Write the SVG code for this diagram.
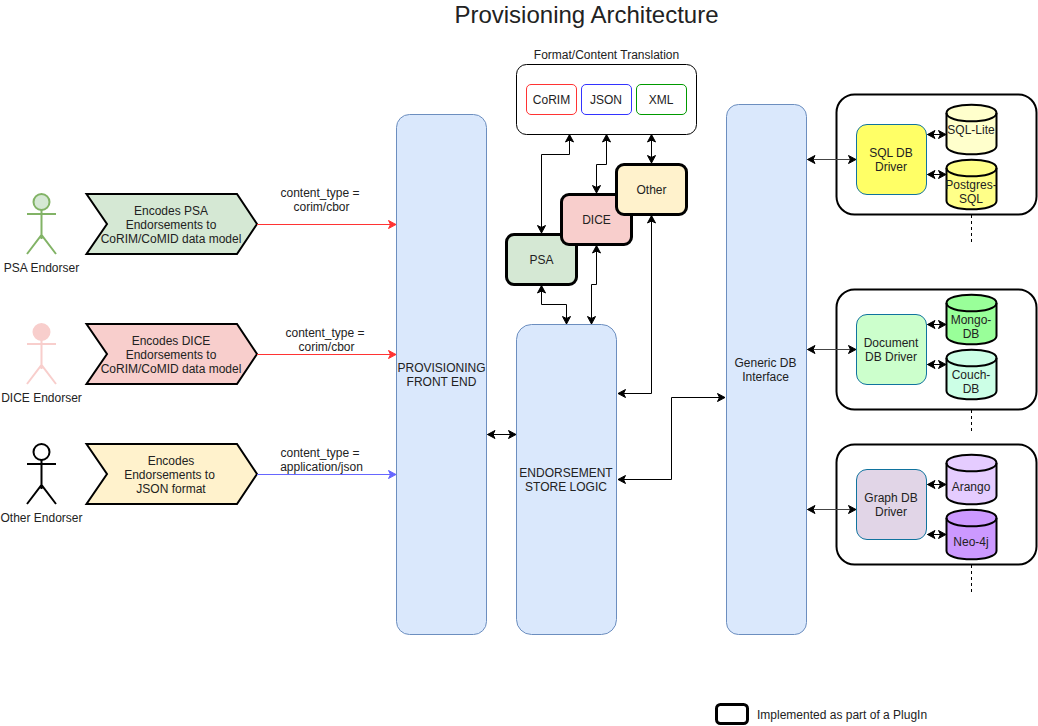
<svg xmlns="http://www.w3.org/2000/svg" width="1038" height="726" viewBox="0 0 1038 726">
<style>
text{font-family:"Liberation Sans",Arial,sans-serif;font-size:12px;fill:#222;text-anchor:middle}
.blue{fill:#dae8fc;stroke:#6c8ebf;stroke-width:1}
.ch{stroke:#000;stroke-width:2;stroke-linejoin:miter}
.act{fill:none;stroke-width:2}
.plug{stroke:#000;stroke-width:3}
.out{fill:#fff;stroke:#000;stroke-width:2}
.drv{stroke:#10739e;stroke-width:1}
.cyl{stroke:#000;stroke-width:2}
.c{fill:none;stroke:#000;stroke-width:1;marker-start:url(#a);marker-end:url(#a)}
.g{fill:none;stroke:#000;stroke-width:1;marker-end:url(#a)}
.d{fill:none;stroke:#000;stroke-width:1;stroke-dasharray:3 3}
</style>
<defs>
<marker id="a" markerUnits="userSpaceOnUse" viewBox="0 0 10 10" refX="9" refY="5" markerWidth="10" markerHeight="10" orient="auto-start-reverse"><path d="M1.5 1 L9 5 L1.5 9 L3.5 5 Z" fill="#000" stroke="#000"/></marker>
<marker id="r" markerUnits="userSpaceOnUse" viewBox="0 0 10 10" refX="9" refY="5" markerWidth="10" markerHeight="10" orient="auto"><path d="M1.5 1 L9 5 L1.5 9 L3.5 5 Z" fill="#ff3333" stroke="#ff3333"/></marker>
<marker id="b" markerUnits="userSpaceOnUse" viewBox="0 0 10 10" refX="9" refY="5" markerWidth="10" markerHeight="10" orient="auto"><path d="M1.5 1 L9 5 L1.5 9 L3.5 5 Z" fill="#6666ff" stroke="#6666ff"/></marker>
<path id="actor" d="M41.5 210V239M27 214H56M27 254L41.5 235L56 254"/>
<path id="chev" d="M86.5 194H237L257 224L237 254H86.5L107 224Z"/>
<path id="cy" d="M946.5 113C946.5 102 996.5 102 996.5 113V146C996.5 157 946.5 157 946.5 146Z"/>
<path id="cyt" d="M946.5 113C946.5 124 996.5 124 996.5 113"/>
</defs>
<text x="586.5" y="23" style="font-size:24px">Provisioning Architecture</text>

<g id="psa-endorser"><circle cx="41.5" cy="202" r="8" fill="#d5e8d4" stroke="#82b366" stroke-width="2"/><use href="#actor" class="act" stroke="#82b366"/><text x="41.5" y="272">PSA Endorser</text></g>
<g id="dice-endorser"><circle cx="41.5" cy="332" r="8" fill="#f8cecc" stroke="#f8cecc" stroke-width="2"/><use href="#actor" y="130" class="act" stroke="#f8cecc"/><text x="41.5" y="402">DICE Endorser</text></g>
<g id="other-endorser"><circle cx="41.5" cy="452" r="8" fill="#fff" stroke="#000" stroke-width="2"/><use href="#actor" y="250" class="act" stroke="#000"/><text x="41.5" y="522">Other Endorser</text></g>

<g id="encode-psa"><use href="#chev" class="ch" fill="#d5e8d4"/><text x="171" y="215">Encodes PSA</text><text x="171" y="229">Endorsements to</text><text x="171" y="243">CoRIM/CoMID data model</text></g>
<g id="encode-dice"><use href="#chev" y="130" class="ch" fill="#f8cecc"/><text x="171" y="345">Encodes DICE</text><text x="171" y="359">Endorsements to</text><text x="171" y="373">CoRIM/CoMID data model</text></g>
<g id="encode-other"><use href="#chev" y="250" class="ch" fill="#fff2cc"/><text x="171" y="465">Encodes</text><text x="169.500" y="479">Endorsements to</text><text x="171" y="493">JSON format</text></g>

<g id="label-psa"><text x="320" y="197">content_type =</text><text x="321.500" y="211">corim/cbor</text></g>
<g id="label-dice"><text x="325" y="337">content_type =</text><text x="326.500" y="351">corim/cbor</text></g>
<g id="label-other"><text x="320" y="457">content_type =</text><text x="321.500" y="471">application/json</text></g>

<g id="front-end"><rect class="blue" x="396.500" y="114.500" width="90" height="520" rx="13"/><text x="441.500" y="372">PROVISIONING</text><text x="441.500" y="386">FRONT END</text></g>
<g id="store-logic"><rect class="blue" x="516.500" y="324.500" width="100" height="310" rx="15"/><text x="566" y="477">ENDORSEMENT</text><text x="566" y="491">STORE LOGIC</text></g>
<g id="db-interface"><rect class="blue" x="726.500" y="104.500" width="80" height="530" rx="12"/><text x="765.500" y="367">Generic DB</text><text x="765.500" y="381">Interface</text></g>

<g id="translation"><text x="606.500" y="59">Format/Content Translation</text><rect x="516.500" y="64.500" width="180" height="70" rx="10" fill="#fff" stroke="#000"/>
<rect x="526.500" y="84.500" width="50" height="30" rx="4.500" fill="#fff" stroke="#ff3333"/><text x="551.500" y="104">CoRIM</text>
<rect x="581.500" y="84.500" width="50" height="30" rx="4.500" fill="#fff" stroke="#3333ff"/><text x="606" y="104">JSON</text>
<rect x="636.500" y="84.500" width="50" height="30" rx="4.500" fill="#fff" stroke="#009900"/><text x="661" y="104">XML</text></g>

<g id="psa"><rect class="plug" x="506.500" y="234.500" width="70" height="50" rx="7.500" fill="#d5e8d4"/><text x="541.500" y="264">PSA</text></g>
<g id="dice"><rect class="plug" x="561.500" y="194.500" width="70" height="50" rx="7.500" fill="#f8cecc"/><text x="596.500" y="224">DICE</text></g>
<g id="other"><rect class="plug" x="616.500" y="164.500" width="70" height="50" rx="7.500" fill="#fff2cc"/><text x="651.500" y="194">Other</text></g>

<g id="sql-group"><rect class="out" x="836.500" y="94.500" width="200" height="120" rx="18"/><rect class="drv" x="856.500" y="124.500" width="70" height="70" rx="10.500" fill="#ffff66"/><text x="891" y="157">SQL DB</text><text x="891" y="171">Driver</text>
<use href="#cy" class="cyl" fill="#ffffcc"/><use href="#cyt" class="cyl" fill="none"/><text x="971" y="134">SQL-Lite</text>
<use href="#cy" y="55" class="cyl" fill="#ffff88"/><use href="#cyt" y="55" class="cyl" fill="none"/><text x="971" y="189">Postgres-</text><text x="971" y="203">SQL</text></g>

<g id="doc-group"><rect class="out" x="836.500" y="289.500" width="200" height="120" rx="18"/><rect class="drv" x="856.500" y="314.500" width="70" height="70" rx="10.500" fill="#ccffcc"/><text x="891" y="347">Document</text><text x="891" y="361">DB Driver</text>
<use href="#cy" y="190" class="cyl" fill="#99ff99"/><use href="#cyt" y="190" class="cyl" fill="none"/><text x="971" y="324">Mongo-</text><text x="971" y="338">DB</text>
<use href="#cy" y="245" class="cyl" fill="#ccffe6"/><use href="#cyt" y="245" class="cyl" fill="none"/><text x="971" y="379">Couch-</text><text x="971" y="393">DB</text></g>

<g id="graph-group"><rect class="out" x="836.500" y="444.500" width="200" height="120" rx="18"/><rect class="drv" x="856.500" y="469.500" width="70" height="70" rx="10.500" fill="#e1d5e7"/><text x="891" y="502">Graph DB</text><text x="891" y="516">Driver</text>
<use href="#cy" y="350" class="cyl" fill="#e5ccff"/><use href="#cyt" y="350" class="cyl" fill="none"/><text x="971" y="491">Arango</text>
<use href="#cy" y="405" class="cyl" fill="#cc99ff"/><use href="#cyt" y="405" class="cyl" fill="none"/><text x="971" y="546">Neo-4j</text></g>

<g id="legend"><rect x="716.500" y="704.500" width="31" height="19" rx="4" fill="#fff" stroke="#000" stroke-width="3"/><text x="757" y="719" style="text-anchor:start">Implemented as part of a PlugIn</text></g>

<g id="connectors">
<path class="c" d="M487.500 434.500H516"/>
<path class="c" d="M569.500 134.500V154.500H541.500V233"/>
<path class="c" d="M606.500 134.500V164.500H596.500V193"/>
<path class="c" d="M651.500 134.500V163"/>
<path class="c" d="M541.500 285.500V304.500H566.500V324"/>
<path class="c" d="M596.500 245.500V284.500H591.500V324"/>
<path class="c" d="M651.500 215.500V393.500H618"/>
<path class="c" d="M618 479.500H671.500V397.500H725"/>
<path class="c" style="stroke:#444" d="M807.500 159.500H856"/>
<path class="c" style="stroke:#444" d="M807.500 349.500H856"/>
<path class="c" style="stroke:#444" d="M807.500 509.500H856"/>
<path class="c" d="M927.500 134.500H946"/><path class="c" d="M927.500 174.500H946"/>
<path class="c" d="M927.500 324.500H946"/><path class="c" d="M927.500 364.500H946"/>
<path class="c" d="M927.500 484.500H946"/><path class="c" d="M927.500 534.500H946"/>
<path class="g" style="stroke:#ff3333;marker-end:url(#r)" d="M257 224.500H396"/>
<path class="g" style="stroke:#ff3333;marker-end:url(#r)" d="M257 354.500H396"/>
<path class="g" style="stroke:#6666ff;marker-end:url(#b)" d="M257 474.500H396"/>
<path class="d" d="M971.500 215V242"/>
<path class="d" d="M971.500 410V432"/>
<path class="d" d="M971.500 565V592"/>
</g>
</svg>
